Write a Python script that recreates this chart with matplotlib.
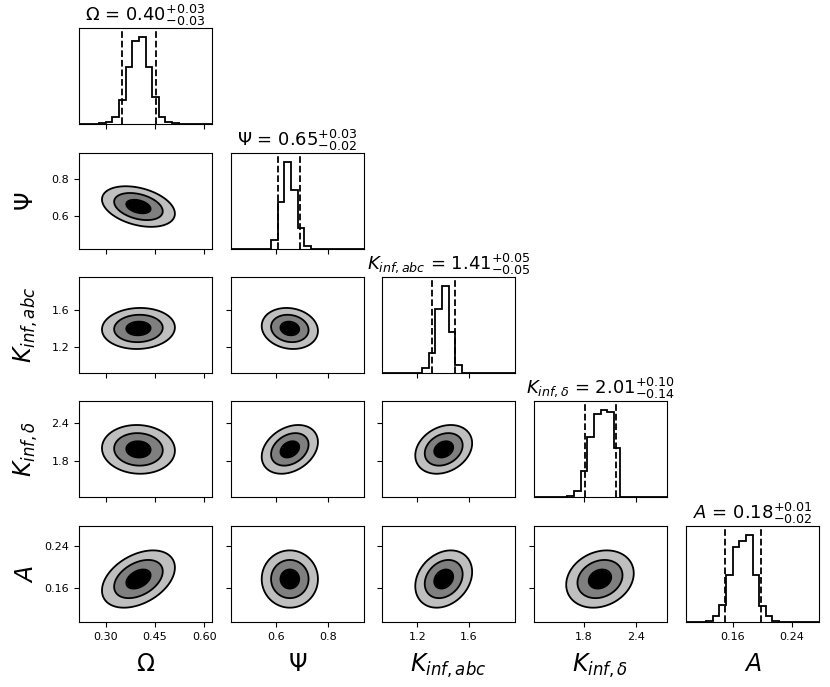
import numpy as np
import matplotlib.pyplot as plt

# parameter names and titles
labels = [r'$\Omega$', r'$\Psi$', r'$K_{inf, abc}$', r'$K_{inf, \delta}$', r'$A$']
titles = [r'$\Omega$ = $0.40_{-0.03}^{+0.03}$',
          r'$\Psi$ = $0.65_{-0.02}^{+0.03}$',
          r'$K_{inf, abc}$ = $1.41_{-0.05}^{+0.05}$',
          r'$K_{inf, \delta}$ = $2.01_{-0.14}^{+0.10}$',
          r'$A$ = $0.18_{-0.02}^{+0.01}$']

# axis ranges
range_lo = [0.219, 0.426, 0.923, 1.223, 0.096]
range_hi = [0.624, 0.937, 1.962, 2.759, 0.277]

# ticks
ticks = [[0.30, 0.45, 0.60], [0.6, 0.8], [1.2, 1.6], [1.8, 2.4], [0.16, 0.24]]
tick_labels = [['0.30', '0.45', '0.60'], ['0.6', '0.8'], ['1.2', '1.6'], ['1.8', '2.4'], ['0.16', '0.24']]

# 1d histograms, 20 bins over each range
hist_omega = [0, 0, 0, 3, 6, 20, 72, 169, 247, 260, 169, 79, 20, 6, 2, 0, 0, 0, 0, 0]
hist_psi = [0, 0, 0, 0, 0, 1, 26, 140, 258, 173, 61, 8, 0, 0, 0, 0, 0, 0, 0, 0]
hist_kabc = [0, 0, 0, 0, 0, 0, 15, 58, 185, 253, 118, 22, 0, 0, 0, 0, 0, 0, 0, 0]
hist_kdelta = [0, 0, 0, 0, 0, 4, 19, 77, 177, 245, 258, 252, 145, 0, 0, 0, 0, 0, 0, 0]
hist_a = [0, 0, 0, 2, 17, 50, 139, 222, 242, 260, 139, 49, 17, 4, 0, 0, 0, 0, 0, 0]
hists = [hist_omega, hist_psi, hist_kabc, hist_kdelta, hist_a]

# dashed quantile lines
q_lo = [0.351, 0.607, 1.313, 1.811, 0.149]
q_hi = [0.452, 0.690, 1.491, 2.171, 0.198]

# 2d posterior summary: centres, widths, correlations
centers = [0.400, 0.652, 1.405, 1.985, 0.177]
sigmas = [0.037, 0.036, 0.074, 0.130, 0.018]
rho = {(0, 1): -0.35, (0, 2): 0.05, (0, 3): -0.05, (0, 4): 0.4,
       (1, 2): -0.12, (1, 3): 0.3, (1, 4): 0.0,
       (2, 3): 0.25, (2, 4): 0.25,
       (3, 4): 0.2}

fig = plt.figure(figsize=(8.3, 6.87), dpi=100)
W, H = 830, 687
col_left = [79, 231, 382, 534, 686]
row_top = [28, 153, 277, 401, 526]
aw, ah = 133, 96

n = len(labels)
for i in range(n):
    for j in range(i + 1):
        ax = fig.add_axes([col_left[j] / W, 1 - (row_top[i] + ah) / H, aw / W, ah / H])
        ax.set_xlim(range_lo[j], range_hi[j])
        ax.set_xticks(ticks[j])
        ax.tick_params(length=3.5)
        if i == n - 1:
            ax.set_xticklabels(tick_labels[j], fontsize=8)
            ax.set_xlabel(labels[j], fontsize=17, va='top')
            ax.xaxis.set_label_coords(0.5, -0.31)
        else:
            ax.set_xticklabels([])
        if i == j:
            edges = np.linspace(range_lo[i], range_hi[i], 21)
            counts = np.array(hists[i])
            ax.stairs(counts, edges, color='k', lw=1.3)
            ax.set_ylim(0, 1.1 * counts.max())
            ax.set_yticks([])
            for q in (q_lo[i], q_hi[i]):
                ax.axvline(q, color='k', ls='--', lw=1.3)
            ax.set_title(titles[i], fontsize=13, pad=3)
        else:
            ax.set_ylim(range_lo[i], range_hi[i])
            ax.set_yticks(ticks[i])
            if j == 0:
                ax.set_yticklabels(tick_labels[i], fontsize=8)
                ax.set_ylabel(labels[i], fontsize=17, va='center')
                ax.yaxis.set_label_coords(-0.40, 0.5)
            else:
                ax.set_yticklabels([])
            x = np.linspace(range_lo[j], range_hi[j], 300)
            y = np.linspace(range_lo[i], range_hi[i], 300)
            X, Y = np.meshgrid(x, y)
            r = rho[(j, i)]
            u = (X - centers[j]) / sigmas[j]
            v = (Y - centers[i]) / sigmas[i]
            d = np.sqrt((u * u - 2 * r * u * v + v * v) / (1 - r * r))
            ax.contourf(X, Y, d, levels=[0, 1, 2, 3], colors=['black', '#7f7f7f', '#bfbfbf'])
            ax.contour(X, Y, d, levels=[1, 2, 3], colors='k', linewidths=1.3)

fig.savefig('out.png', dpi=100)
